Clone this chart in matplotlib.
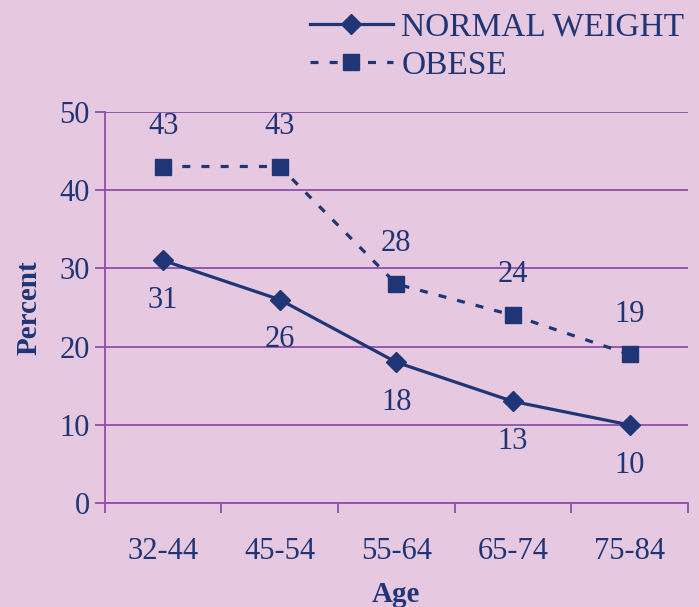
import numpy as np
import matplotlib.pyplot as plt

# chart data
ages = ["32-44", "45-54", "55-64", "65-74", "75-84"]
normal_weight = [31, 26, 18, 13, 10]
obese = [43, 43, 28, 24, 19]

bg = "#E6C8E0"
navy = "#1F3575"
purple = "#8E4FAD"

plt.rcParams['font.family'] = ['Liberation Serif', 'DejaVu Serif']

fig = plt.figure(figsize=(6.99, 6.07), dpi=100, facecolor=bg)
ax = fig.add_axes([0.150, 0.171, 0.834, 0.645], facecolor=bg)

x = np.arange(len(ages))
ax.plot(x, normal_weight, color=navy, lw=2.3, marker="D", markersize=10,
        label="NORMAL WEIGHT")
ax.plot(x, obese, color=navy, lw=2.3, ls=(0, (2.5, 3.5)), marker="s",
        markersize=11.5, label="OBESE")

for xi, v in zip(x, normal_weight):
    ax.annotate(str(v), (xi, v), xytext=(0, -29), textcoords="offset points",
                ha="center", va="center", fontsize=22, color=navy)
for xi, v in zip(x, obese):
    ax.annotate(str(v), (xi, v), xytext=(0, 29), textcoords="offset points",
                ha="center", va="center", fontsize=22, color=navy)

ax.set_xlim(-0.5, len(ages) - 0.5)
ax.set_ylim(0, 50)
ax.set_yticks(range(0, 51, 10))
ax.set_xticks(x)
ax.set_xticklabels(ages)
ax.set_xticks(np.arange(-0.5, len(ages), 1), minor=True)
ax.tick_params(axis="x", which="major", length=0, pad=24, labelsize=22,
               labelcolor=navy)
ax.tick_params(axis="x", which="minor", length=7, width=1.3, color=purple)
ax.tick_params(axis="y", length=7, width=1.3, color=purple, labelsize=22,
               labelcolor=navy, pad=4)
ax.yaxis.grid(True, color=purple, lw=1.3)
ax.set_axisbelow(True)
for s in ["top", "right"]:
    ax.spines[s].set_visible(False)
for s in ["left", "bottom"]:
    ax.spines[s].set_color(purple)
    ax.spines[s].set_linewidth(1.3)

ax.set_xlabel("Age", fontsize=21, fontweight="bold", color=navy, labelpad=11)
ax.set_ylabel("Percent", fontsize=21, fontweight="bold", color=navy, labelpad=12)

fig.legend(loc="upper right", bbox_to_anchor=(1.022, 1.03), frameon=False,
           fontsize=24, labelcolor=navy, handlelength=2.5, handletextpad=0.25,
           labelspacing=0.25)

fig.savefig("out.png", dpi=100, facecolor=bg)
